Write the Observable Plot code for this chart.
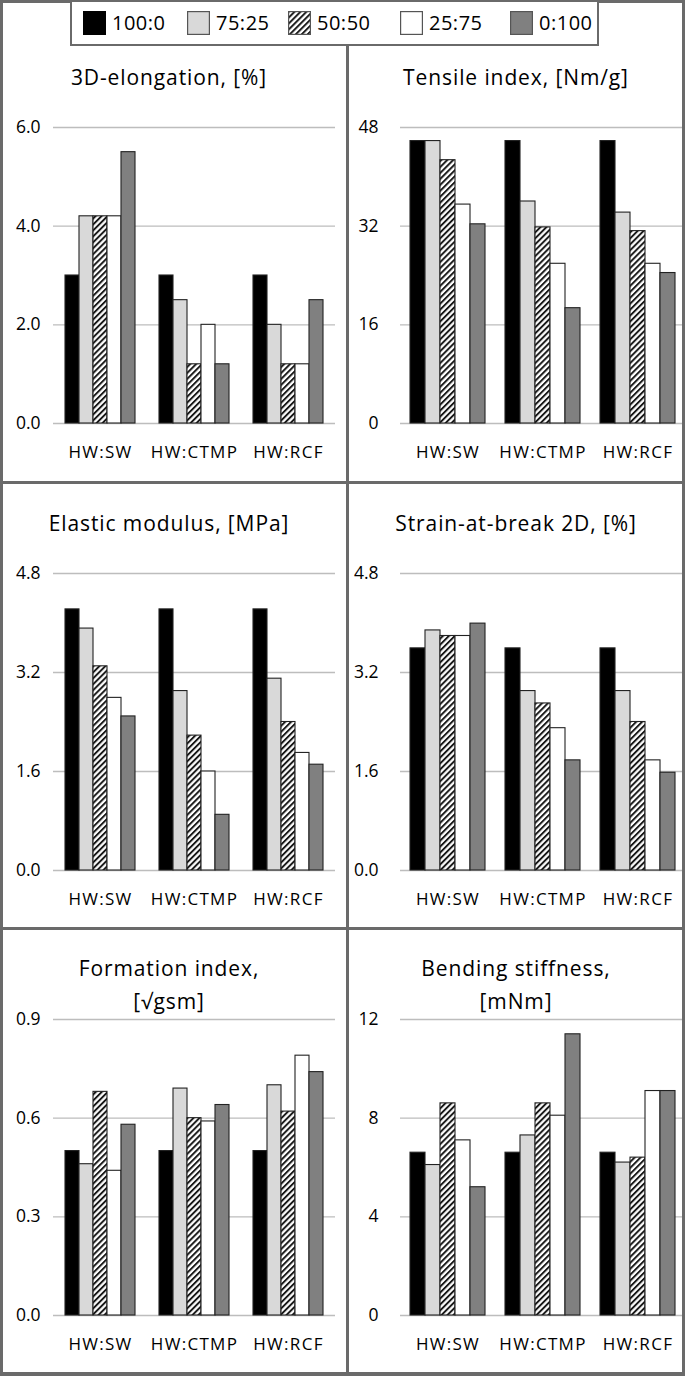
<!DOCTYPE html>
<html>
<head>
<meta charset="utf-8">
<script src="https://cdn.jsdelivr.net/npm/d3@7"></script>
<script src="https://cdn.jsdelivr.net/npm/@observablehq/plot@0.6"></script>
<style>
  html, body { margin: 0; padding: 0; background: #fff; }
  #root { position: relative; width: 685px; height: 1376px; background: #fff; overflow: hidden; font-family: "Open Sans", sans-serif; color: #000; }
  .line { position: absolute; background: #6a6a6a; z-index: 5; }
  .title { position: absolute; z-index: 4; text-align: center; font-size: 21px; line-height: 33px; letter-spacing: 0.9px; white-space: nowrap; transform: translateX(-50%); }
  .chart { position: absolute; z-index: 1; }
  .legend { position: absolute; left: 70px; top: 0; width: 529px; height: 46px; box-sizing: border-box; border: 2.5px solid #6a6a6a; background: #fff; z-index: 6; }
  .item { position: absolute; top: 0; height: 41px; display: flex; align-items: center; font-size: 20px; letter-spacing: 0.5px; }
</style>
</head>
<body>
<svg width="0" height="0" style="position:absolute">
  <defs>
    <pattern id="hatch" patternUnits="userSpaceOnUse" width="4.2" height="4.2" patternTransform="rotate(45)">
      <rect width="4.2" height="4.2" fill="#fff"></rect>
      <line x1="1" y1="0" x2="1" y2="4.2" stroke="#111" stroke-width="1.9"></line>
    </pattern>
  </defs>
</svg>
<div id="root"></div>
<script>
// ---- data ----
const groups = ["HW:SW", "HW:CTMP", "HW:RCF"];
const ratios = ["100:0", "75:25", "50:50", "25:75", "0:100"];
const ratioFills = ["#000000", "#d9d9d9", "url(#hatch)", "#ffffff", "#808080"];

const elongation3D     = [[3.0, 4.2, 4.2, 4.2, 5.5], [3.0, 2.5, 1.2, 2.0, 1.2], [3.0, 2.0, 1.2, 1.2, 2.5]];
const tensileIndex     = [[45.8, 45.8, 42.7, 35.5, 32.3], [45.8, 36.0, 31.8, 25.9, 18.7], [45.8, 34.2, 31.2, 25.9, 24.4]];
const elasticModulus   = [[4.22, 3.91, 3.30, 2.79, 2.49], [4.22, 2.90, 2.18, 1.60, 0.90], [4.22, 3.10, 2.40, 1.90, 1.71]];
const strainAtBreak2D  = [[3.59, 3.88, 3.79, 3.79, 3.99], [3.59, 2.90, 2.70, 2.30, 1.78], [3.59, 2.90, 2.40, 1.78, 1.58]];
const formationIndex   = [[0.50, 0.46, 0.68, 0.44, 0.58], [0.50, 0.69, 0.60, 0.59, 0.64], [0.50, 0.70, 0.62, 0.79, 0.74]];
const bendingStiffness = [[6.6, 6.1, 8.6, 7.1, 5.2], [6.6, 7.3, 8.6, 8.1, 11.4], [6.6, 6.2, 6.4, 9.1, 9.1]];

const ticksElongation = [0, 2, 4, 6];
const ticksTensile    = [0, 16, 32, 48];
const ticksModulus    = [0, 1.6, 3.2, 4.8];
const ticksStrain     = [0, 1.6, 3.2, 4.8];
const ticksFormation  = [0, 0.3, 0.6, 0.9];
const ticksBending    = [0, 4, 8, 12];

const titles = [
  ["3D-elongation, [%]"],
  ["Tensile index, [Nm/g]"],
  ["Elastic modulus, [MPa]"],
  ["Strain-at-break 2D, [%]"],
  ["Formation index,", "[\u221Agsm]"],
  ["Bending stiffness,", "[mNm]"]
];

const panels = [
  {title: titles[0], values: elongation3D,     ticks: ticksElongation, fmt: ".1f"},
  {title: titles[1], values: tensileIndex,     ticks: ticksTensile,    fmt: "d"},
  {title: titles[2], values: elasticModulus,   ticks: ticksModulus,    fmt: ".1f"},
  {title: titles[3], values: strainAtBreak2D,  ticks: ticksStrain,     fmt: ".1f"},
  {title: titles[4], values: formationIndex,   ticks: ticksFormation,  fmt: ".1f"},
  {title: titles[5], values: bendingStiffness, ticks: ticksBending,    fmt: "d"}
];

// ---- layout ----
const colLeft = [0, 349], colW = [346, 336], colML = [52, 50], colMR = [11, 0], colPad = [13, 22], colTitleX = [169, 516];
const rowTop = [48, 484, 930], rowH = [430, 440, 440], rowMT = [79, 89, 89], rowMB = [55, 54, 55];
const rowTitleTop = [61, 507, 952];

const root = document.getElementById("root");

panels.forEach((p, k) => {
  const col = k % 2, row = Math.floor(k / 2);
  const data = groups.flatMap((g, i) => ratios.map((r, j) => ({group: g, ratio: r, value: p.values[i][j]})));
  const chart = Plot.plot({
    width: colW[col], height: rowH[row],
    marginLeft: colML[col], marginRight: colMR[col], marginTop: rowMT[row], marginBottom: rowMB[row],
    style: {fontFamily: "Open Sans", fontSize: "17px", color: "#000", background: "transparent", overflow: "visible"},
    fx: {domain: groups, padding: 0, label: null},
    x: {domain: ratios, paddingInner: 0, paddingOuter: 0.65, axis: null},
    y: {domain: [0, p.ticks[p.ticks.length - 1]], label: null},
    color: {domain: ratios, range: ratioFills},
    marks: [
      Plot.ruleY(p.ticks, {y: d => d, stroke: "#bdbdbd", strokeWidth: 1.4}),
      Plot.barY(data, {fx: "group", x: "ratio", y: "value", fill: "ratio", stroke: "#222", strokeWidth: 1.1}),
      Plot.axisY(p.ticks, {tickSize: 0, tickPadding: colPad[col], tickFormat: d3.format(p.fmt), fontSize: 17.5, label: null}),
      Plot.axisFx({anchor: "bottom", tickSize: 0, tickPadding: 22, fontSize: 17, label: null})
    ]
  });
  d3.select(chart).selectAll('g[aria-label="fx-axis tick label"] text').style("letter-spacing", "1.3px");
  chart.classList.add("chart");
  chart.style.left = colLeft[col] + "px";
  chart.style.top = rowTop[row] + "px";
  root.appendChild(chart);

  const t = document.createElement("div");
  t.className = "title";
  t.style.left = colTitleX[col] + "px";
  t.style.top = rowTitleTop[row] + "px";
  t.innerHTML = p.title.join("<br>");
  root.appendChild(t);
});

// ---- frame lines ----
function line(l, t, w, h) {
  const d = document.createElement("div");
  d.className = "line";
  Object.assign(d.style, {left: l + "px", top: t + "px", width: w + "px", height: h + "px"});
  root.appendChild(d);
}
line(0, 0, 685, 3);        // top
line(0, 0, 3, 1376);       // left
line(682, 0, 3, 1376);     // right
line(0, 1372, 685, 4);     // bottom
line(0, 481, 685, 3);      // row divider 1
line(0, 927, 685, 3);      // row divider 2
line(346, 44, 3, 1332);    // column divider

// ---- legend ----
const legend = document.createElement("div");
legend.className = "legend";
const itemLeft = [11, 115, 216, 328, 438];
ratios.forEach((r, i) => {
  const it = document.createElement("div");
  it.className = "item";
  it.style.left = itemLeft[i] + "px";
  const sw = document.createElementNS("http://www.w3.org/2000/svg", "svg");
  sw.setAttribute("width", 23); sw.setAttribute("height", 24);
  sw.style.marginRight = "6px";
  const rect = document.createElementNS("http://www.w3.org/2000/svg", "rect");
  rect.setAttribute("x", 0.6); rect.setAttribute("y", 0.6);
  rect.setAttribute("width", 21.8); rect.setAttribute("height", 22.8);
  rect.setAttribute("fill", ratioFills[i]);
  rect.setAttribute("stroke", i === 0 ? "#000" : "#555");
  rect.setAttribute("stroke-width", 1.2);
  sw.appendChild(rect);
  it.appendChild(sw);
  const tx = document.createElement("span");
  tx.textContent = r;
  it.appendChild(tx);
  legend.appendChild(it);
});
root.appendChild(legend);
</script>
</body>
</html>
